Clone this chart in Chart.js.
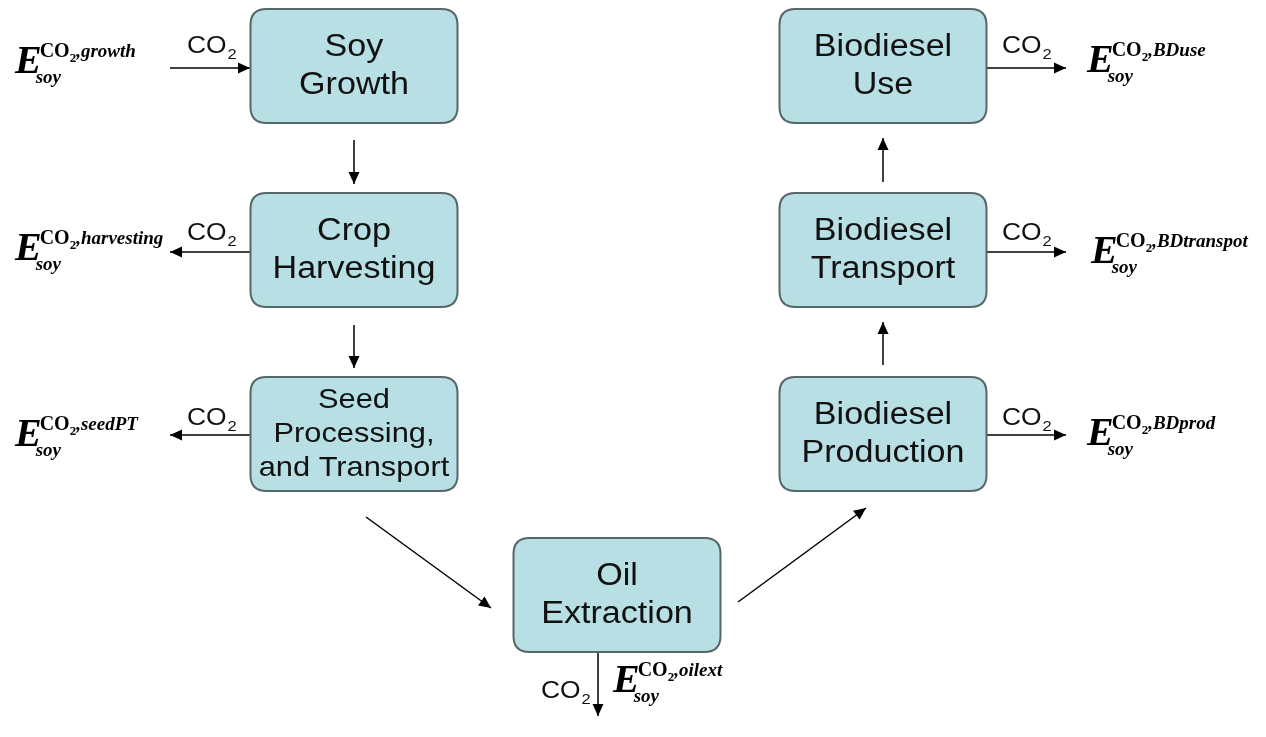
<!DOCTYPE html>
<html>
<head>
<meta charset="utf-8">
<title>Soy biodiesel CO2 flow</title>
<script src="https://cdn.jsdelivr.net/npm/chart.js@4.4.1/dist/chart.umd.min.js"></script>
<style>
  html, body { margin: 0; padding: 0; background: #ffffff; }
  #chartWrap { width: 1266px; height: 737px; }
</style>
</head>
<body>
<div id="chartWrap"><canvas id="diagram" width="1266" height="737"></canvas></div>
<script>
// process steps (diagram units = reference pixels)
const nodeLabels = [
  ["Soy", "Growth"],
  ["Crop", "Harvesting"],
  ["Seed", "Processing,", "and Transport"],
  ["Oil", "Extraction"],
  ["Biodiesel", "Production"],
  ["Biodiesel", "Transport"],
  ["Biodiesel", "Use"],
];
const nodeX = [354, 354, 354, 617, 883, 883, 883];
const nodeY = [66, 250, 434, 595, 434, 250, 66];

// arrows: start and end points
const arrowFrom = [
  [170, 68], [250, 252], [250, 435],
  [354, 140], [354, 325],
  [366, 517], [738, 602],
  [883, 365], [883, 182],
  [986, 68], [986, 252], [986, 435],
  [598, 652],
];
const arrowTo = [
  [250, 68], [170, 252], [170, 435],
  [354, 184], [354, 368],
  [491, 608], [866, 508],
  [883, 322], [883, 138],
  [1066, 68], [1066, 252], [1066, 435],
  [598, 716],
];

// CO2 flow labels and emission terms
const co2X = [187, 187, 187, 1002, 1002, 1002, 541];
const co2Y = [53, 240, 425, 53, 240, 425, 698];
const emitNames = ["growth", "harvesting", "seedPT", "BDuse", "BDtranspot", "BDprod", "oilext"];
const emitX = [15, 15, 15, 1087, 1091, 1087, 613];
const emitY = [73, 260, 446, 72, 263, 445, 692];

const BOX_W = 207;
const BOX_H = 114;
const BOX_R = 16;
const BOX_FILL = "#b8dfe4";
const BOX_EDGE = "#56666b";
const SANS = "'Liberation Sans', Arial, sans-serif";
const SERIF = "'Liberation Serif', 'Times New Roman', serif";
const STRETCH = 1.1;

function roundRect(ctx, x, y, w, h, r) {
  ctx.beginPath();
  ctx.moveTo(x + r, y);
  ctx.lineTo(x + w - r, y);
  ctx.quadraticCurveTo(x + w, y, x + w, y + r);
  ctx.lineTo(x + w, y + h - r);
  ctx.quadraticCurveTo(x + w, y + h, x + w - r, y + h);
  ctx.lineTo(x + r, y + h);
  ctx.quadraticCurveTo(x, y + h, x, y + h - r);
  ctx.lineTo(x, y + r);
  ctx.quadraticCurveTo(x, y, x + r, y);
  ctx.closePath();
}

// text a bit wider than the font, like the original slide
function wideText(ctx, t, x, y) {
  ctx.save();
  ctx.translate(x, y);
  ctx.scale(STRETCH, 1);
  ctx.fillText(t, 0, 0);
  ctx.restore();
  return ctx.measureText(t).width * STRETCH;
}

const diagramPlugin = {
  id: "diagram",
  afterDatasetsDraw(chart) {
    const ctx = chart.ctx;
    const sx = chart.scales.x;
    const sy = chart.scales.y;
    const px = (v) => sx.getPixelForValue(v);
    const py = (v) => sy.getPixelForValue(v);
    const kx = px(1) - px(0);
    const ky = py(1) - py(0);

    ctx.save();

    // arrow heads
    ctx.fillStyle = "#000";
    arrowFrom.forEach((a, i) => {
      const b = arrowTo[i];
      const x1 = px(a[0]), y1 = py(a[1]), x2 = px(b[0]), y2 = py(b[1]);
      const ang = Math.atan2(y2 - y1, x2 - x1);
      const len = 12, half = 5.5;
      ctx.beginPath();
      ctx.moveTo(x2, y2);
      ctx.lineTo(x2 - len * Math.cos(ang) + half * Math.sin(ang), y2 - len * Math.sin(ang) - half * Math.cos(ang));
      ctx.lineTo(x2 - len * Math.cos(ang) - half * Math.sin(ang), y2 - len * Math.sin(ang) + half * Math.cos(ang));
      ctx.closePath();
      ctx.fill();
    });

    // boxes
    nodeLabels.forEach((lines, i) => {
      const w = BOX_W * kx, h = BOX_H * ky;
      const cx = px(nodeX[i]), cy = py(nodeY[i]);
      roundRect(ctx, cx - w / 2, cy - h / 2, w, h, BOX_R);
      ctx.fillStyle = BOX_FILL;
      ctx.fill();
      ctx.lineWidth = 2;
      ctx.strokeStyle = BOX_EDGE;
      ctx.stroke();

      const three = lines.length === 3;
      const size = three ? 28 : 31;
      const gap = three ? 34 : 38;
      ctx.font = size + "px " + SANS;
      ctx.fillStyle = "#111";
      ctx.textAlign = "center";
      ctx.textBaseline = "middle";
      lines.forEach((t, j) => {
        wideText(ctx, t, cx, cy + (j - (lines.length - 1) / 2) * gap);
      });
    });

    // CO2 labels
    ctx.textAlign = "left";
    ctx.textBaseline = "alphabetic";
    co2X.forEach((x, i) => {
      const x0 = px(x), y0 = py(co2Y[i]);
      ctx.font = "24px " + SANS;
      ctx.fillStyle = "#111";
      const w = wideText(ctx, "CO", x0, y0);
      ctx.font = "15px " + SANS;
      wideText(ctx, "2", x0 + w + 1, y0 + 6);
    });

    // emission terms E_soy^{CO2,name}
    emitNames.forEach((name, i) => {
      const x0 = px(emitX[i]), y0 = py(emitY[i]);
      ctx.fillStyle = "#000";
      ctx.font = "italic bold 40px " + SERIF;
      ctx.fillText("E", x0, y0);
      const ew = ctx.measureText("E").width;
      let x = x0 + ew - 2;
      ctx.font = "bold 20px " + SERIF;
      ctx.fillText("CO", x, y0 - 16);
      x += ctx.measureText("CO").width;
      ctx.font = "bold 13px " + SERIF;
      ctx.fillText("2", x, y0 - 11);
      x += ctx.measureText("2").width;
      ctx.font = "italic bold 19px " + SERIF;
      ctx.fillText("," + name, x, y0 - 16);
      ctx.font = "italic bold 19px " + SERIF;
      ctx.fillText("soy", x0 + ew - 6, y0 + 10);
    });

    ctx.restore();
  },
};

const arrowSets = arrowFrom.map((a, i) => ({
  label: "arrow " + (i + 1),
  data: [{ x: a[0], y: a[1] }, { x: arrowTo[i][0], y: arrowTo[i][1] }],
  showLine: true,
  borderColor: "#000",
  borderWidth: 1.5,
  pointRadius: 0,
  fill: false,
}));

new Chart(document.getElementById("diagram"), {
  type: "scatter",
  data: { datasets: arrowSets },
  options: {
    responsive: false,
    animation: false,
    layout: { padding: 0 },
    plugins: { legend: { display: false }, tooltip: { enabled: false } },
    scales: {
      x: { type: "linear", min: 0, max: 1266, display: false },
      y: { type: "linear", min: 0, max: 737, reverse: true, display: false },
    },
  },
  plugins: [diagramPlugin],
});
</script>
</body>
</html>
